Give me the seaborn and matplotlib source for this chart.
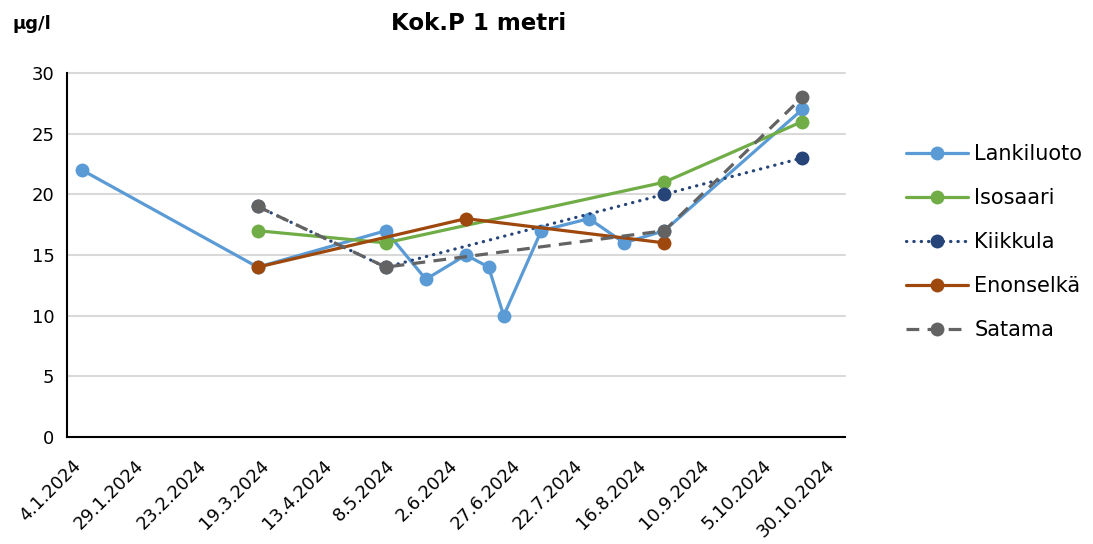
import matplotlib
matplotlib.use("Agg")
import matplotlib.pyplot as plt
from matplotlib.transforms import ScaledTranslation
import seaborn as sns
import pandas as pd
import numpy as np

# ---- data ----
lankiluoto_dates = ["2024-01-10", "2024-03-20", "2024-05-10", "2024-05-26", "2024-06-11",
                    "2024-06-20", "2024-06-26", "2024-07-11", "2024-07-30", "2024-08-13",
                    "2024-08-29", "2024-10-23"]
lankiluoto_vals = [22, 14, 17, 13, 15, 14, 10, 17, 18, 16, 17, 27]

isosaari_dates = ["2024-03-20", "2024-05-10", "2024-08-29", "2024-10-23"]
isosaari_vals = [17, 16, 21, 26]

kiikkula_dates = ["2024-03-20", "2024-05-10", "2024-08-29", "2024-10-23"]
kiikkula_vals = [19, 14, 20, 23]

enonselka_dates = ["2024-03-20", "2024-06-11", "2024-08-29"]
enonselka_vals = [14, 18, 16]

satama_dates = ["2024-03-20", "2024-05-10", "2024-08-29", "2024-10-23"]
satama_vals = [19, 14, 17, 28]

tick_labels = ["4.1.2024", "29.1.2024", "23.2.2024", "19.3.2024", "13.4.2024", "8.5.2024",
               "2.6.2024", "27.6.2024", "22.7.2024", "16.8.2024", "10.9.2024", "5.10.2024",
               "30.10.2024"]
y_ticks = [0, 5, 10, 15, 20, 25, 30]

series = [
    ("Lankiluoto", lankiluoto_dates, lankiluoto_vals, "#5B9BD5", "-"),
    ("Isosaari", isosaari_dates, isosaari_vals, "#70AD47", "-"),
    ("Kiikkula", kiikkula_dates, kiikkula_vals, "#264478", (0, (0.1, 2.2))),
    ("Enonselkä", enonselka_dates, enonselka_vals, "#9E480E", "-"),
    ("Satama", satama_dates, satama_vals, "#636363", (0, (4, 2.6))),
]

sns.set_theme(style="white")
plt.rcParams["font.family"] = ["DejaVu Sans"]
plt.rcParams.update({"text.color": "black", "axes.labelcolor": "black",
                     "xtick.color": "black", "ytick.color": "black"})

fig = plt.figure(figsize=(10.93, 5.44), dpi=100)
ax = fig.add_axes([67 / 1093, 1 - 437 / 544, (845 - 67) / 1093, (437 - 73) / 544])

for name, dates, vals, color, ls in series:
    df = pd.DataFrame({"date": pd.to_datetime(dates), "value": vals})
    sns.lineplot(data=df, x="date", y="value", ax=ax, color=color, linewidth=2.3,
                 marker="o", markersize=10, markeredgewidth=0, label=name,
                 estimator=None, sort=False)
    line = ax.get_lines()[-1]
    line.set_linestyle(ls)
    line.set_dash_capstyle("round" if name == "Kiikkula" else "butt")

tick_dates = pd.to_datetime([f"{t.split('.')[2]}-{int(t.split('.')[1]):02d}-{int(t.split('.')[0]):02d}"
                             for t in tick_labels])
ax.set_xlim(pd.Timestamp("2024-01-04"), pd.Timestamp("2024-11-09"))
ax.set_xticks(tick_dates)
ax.set_xticklabels(tick_labels, rotation=45, ha="right", rotation_mode="anchor", fontsize=12.8)
ax.set_ylim(0, 30)
ax.set_yticks(y_ticks)
ax.set_yticklabels([str(v) for v in y_ticks], fontsize=13)
ax.set_xlabel("")
ax.set_ylabel("")

ax.grid(axis="y", color="#D9D9D9", linewidth=1.5)
ax.set_axisbelow(True)
for gl in ax.yaxis.get_gridlines():
    gl.set_clip_on(False)
for s in ["top", "right"]:
    ax.spines[s].set_visible(False)
for s in ["left", "bottom"]:
    ax.spines[s].set_color("black")
    ax.spines[s].set_linewidth(1.5)
ax.tick_params(axis="both", direction="out", length=5, width=1.3, color="black", pad=4)
ax.tick_params(axis="x", pad=9)
offset = ScaledTranslation(5 / 100, 0, fig.dpi_scale_trans)
for lab in ax.get_xticklabels():
    lab.set_transform(lab.get_transform() + offset)

handles, labels = ax.get_legend_handles_labels()
ax.legend(handles, labels, loc="center left", bbox_to_anchor=(887 / 1093, 1 - 242 / 544),
          bbox_transform=fig.transFigure, frameon=False, fontsize=15,
          handlelength=3.0, labelspacing=1.15, handletextpad=0.3)

fig.text(479 / 1093, 1 - 23 / 544, "Kok.P 1 metri", ha="center", va="center",
         fontsize=16.5, fontweight="bold")
fig.text(12 / 1093, 1 - 24 / 544, "µg/l", ha="left", va="center", fontsize=13, fontweight="bold")

fig.savefig("out.png", dpi=100)
